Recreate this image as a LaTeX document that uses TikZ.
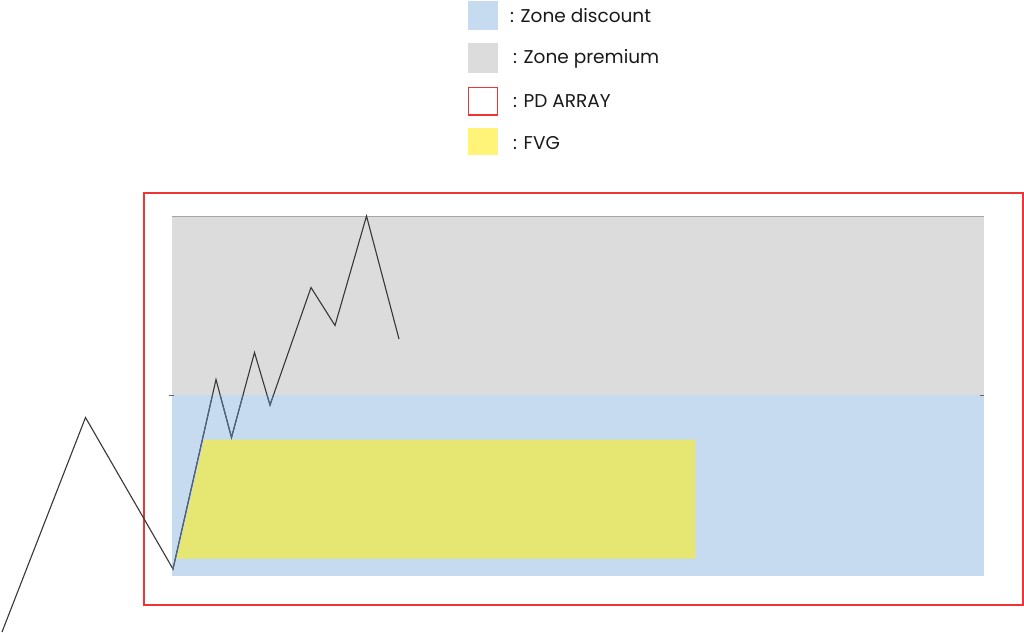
\documentclass[tikz,border=0pt]{standalone}
\usepackage{fontspec}
\setmainfont{Poppins}
\definecolor{discount}{RGB}{199,219,240}
\definecolor{premium}{RGB}{220,220,220}
\definecolor{pdred}{RGB}{238,52,52}
\definecolor{fvgleg}{RGB}{255,243,120}
\definecolor{fvg}{RGB}{230,230,115}
\definecolor{pline}{RGB}{55,55,55}
\definecolor{plineblue}{RGB}{80,100,130}
\begin{document}
\begin{tikzpicture}[x=1pt,y=-1pt,
  legtext/.style={anchor=west,font=\fontsize{18.5}{22}\selectfont,text=black!90,inner sep=0pt},
  price/.style={line width=1.1pt,line join=miter}]
\useasboundingbox (0,0) rectangle (1024,632);
\fill[white] (0,0) rectangle (1024,632);
% legend
\fill[discount] (468,1) rectangle (498,30);
\fill[premium] (468,43) rectangle (498,73);
\draw[pdred,line width=1.6pt] (468.5,87.5) rectangle (497.5,115);
\fill[fvgleg] (468,128) rectangle (498,155);
\node[legtext] (l1) at (510,16) {: Zone discount};
\node[legtext] (l2) at (513,59) {: Zone premium};
\node[legtext] (l3) at (513,101) {: PD ARRAY};
\node[legtext] (l4) at (513,143) {: FVG};
% zones
\fill[premium] (172,216) rectangle (984,395);
\fill[discount] (172,395) rectangle (984,576);
\draw[gray!70,line width=1pt] (172,216) -- (984,216);
\draw[gray!80!black,line width=1pt] (169,395) -- (174,395);
\draw[gray!80!black,line width=1pt] (980,395) -- (984,395);
% FVG
\fill[fvg] (177,558.5) -- (204.5,439.5) -- (695.5,439.5) -- (695.5,558.5) -- cycle;
% PD array
\draw[pdred,line width=2pt] (143.5,192.5) rectangle (1022.5,605);
% price path
\coordinate (p0) at (2,632);
\coordinate (p1) at (85.5,417.5);
\coordinate (p2) at (173,569);
\coordinate (p3) at (216,379.5);
\coordinate (p4) at (231.5,437.5);
\coordinate (p5) at (254.5,352.5);
\coordinate (p6) at (270,405);
\coordinate (p7) at (311,287.5);
\coordinate (p8) at (335,325.5);
\coordinate (p9) at (366.5,216);
\coordinate (p10) at (399,339);
\draw[price,pline] (p0) -- (p1) -- (p2) -- (p3) -- (p4) -- (p5) -- (p6) -- (p7) -- (p8) -- (p9) -- (p10);
\begin{scope}
\clip (172,395) rectangle (984,576);
\draw[price,plineblue] (p0) -- (p1) -- (p2) -- (p3) -- (p4) -- (p5) -- (p6) -- (p7) -- (p8) -- (p9) -- (p10);
\end{scope}
\end{tikzpicture}
\end{document}
